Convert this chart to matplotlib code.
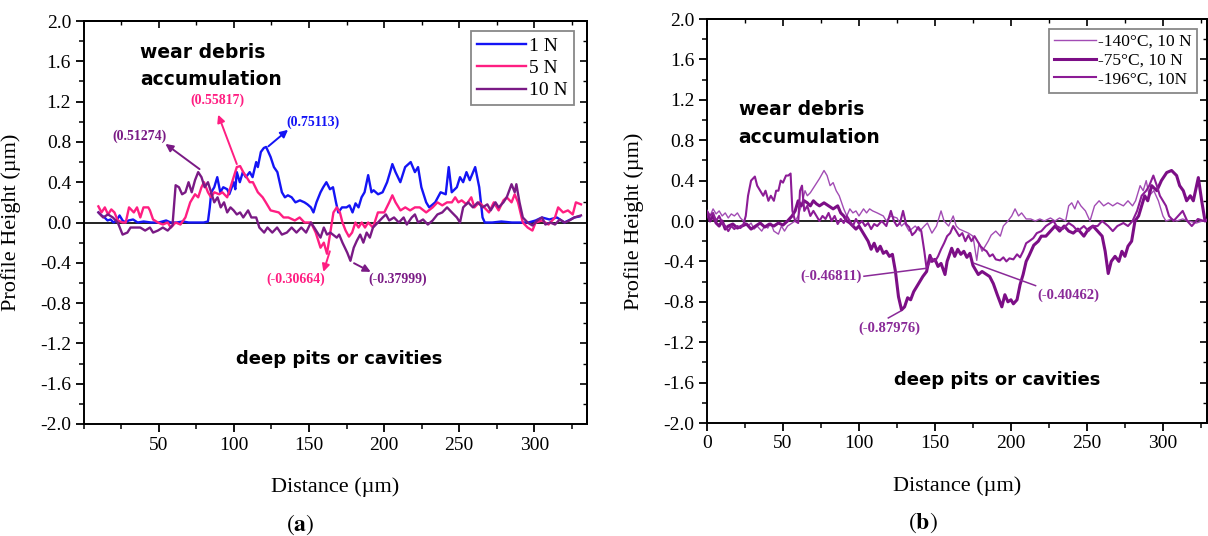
import matplotlib
matplotlib.use("Agg")
import matplotlib.pyplot as plt
from matplotlib.ticker import MultipleLocator, FormatStrFormatter

plt.rcParams['axes.unicode_minus'] = False
plt.rcParams['mathtext.fontset'] = 'stix'

# ---------------- data (a) ----------------
x_1N = [10, 12, 14, 16, 18, 20, 22, 24, 26, 28, 30, 33, 36, 40, 45, 50, 55, 58, 62, 66, 70, 75, 80, 82.8, 84,
        85, 87, 89, 91, 93, 95.6, 97, 99.9, 101, 102, 104, 106, 108, 110.6, 112.5, 114.9, 116, 118, 120, 121.5,
        123, 124.5, 126.7, 129, 132, 134, 136, 138.5, 141, 144, 147, 149, 151.3, 153, 155, 157.7, 159.5, 161.6,
        164, 166, 168, 169.5, 172, 175, 177, 179, 181, 183, 185, 187, 189.4, 191.6, 193, 196, 199, 202, 204,
        205.5, 207.6, 210.8, 214, 217.7, 220.5, 222.6, 224.8, 228, 230, 234, 237.6, 241, 243, 245, 248.4, 250.5,
        252.6, 254.8, 257, 260.6, 263.3, 265.5, 267, 272, 278, 285, 292, 296, 300.8, 305, 310, 315, 320, 324,
        326.6, 330]
y_1N = [0.1, 0.07, 0.05, 0.02, 0.03, 0.0, 0.02, 0.07, 0.02, 0.0, 0.02, 0.03, 0.0, 0.01, 0.0, 0.0, 0.02, 0.0, 0.0,
        0.01, 0.0, 0.0, 0.0, 0.01, 0.15, 0.3, 0.35, 0.45, 0.3, 0.35, 0.33, 0.28, 0.4, 0.33, 0.5, 0.4, 0.5, 0.45,
        0.5, 0.45, 0.6, 0.55, 0.7, 0.74, 0.75, 0.7, 0.65, 0.55, 0.5, 0.3, 0.25, 0.27, 0.25, 0.2, 0.22, 0.2, 0.18,
        0.15, 0.1, 0.2, 0.3, 0.35, 0.4, 0.33, 0.35, 0.2, 0.1, 0.15, 0.15, 0.17, 0.1, 0.19, 0.15, 0.25, 0.3, 0.47,
        0.3, 0.32, 0.28, 0.3, 0.4, 0.5, 0.58, 0.5, 0.4, 0.55, 0.6, 0.5, 0.55, 0.35, 0.2, 0.15, 0.2, 0.3, 0.28,
        0.55, 0.3, 0.35, 0.45, 0.4, 0.5, 0.42, 0.55, 0.35, 0.05, 0.0, 0.0, 0.01, 0.0, 0.0, 0.0, 0.02, 0.05,
        0.03, 0.05, 0.0, 0.03, 0.05, 0.06]

x_5N = [9.9, 12, 14.2, 16.3, 18.5, 20.6, 22.8, 26, 28.1, 30.3, 33.5, 35.6, 37.8, 39.9, 43.1, 44.2, 46.3, 49.5,
        52.8, 56, 58.1, 61.3, 64.5, 67.8, 71, 74.2, 76.3, 78.5, 80.2, 82.8, 84.9, 87, 90.3, 92.4, 95.6, 97.8,
        99.9, 102, 104.2, 106.3, 108.5, 110.6, 112.7, 116, 119.2, 121.3, 124.5, 129.9, 133.1, 136.3, 140.6,
        143.8, 147, 151.3, 154.5, 157.7, 159.9, 162, 164.2, 166.3, 168.5, 170.6, 172.3, 174.4, 176.6, 178.7,
        180.9, 183, 185.1, 187.3, 189.4, 192.6, 195.9, 200.1, 203.4, 205.5, 207.6, 210.9, 214.1, 217.3, 220.5,
        223.7, 228, 232.3, 235.5, 238.7, 241.9, 245.1, 247.3, 249.4, 251.6, 254.8, 258, 260.1, 263.4, 266.6,
        269.8, 273, 276.2, 279.4, 281.6, 284.8, 286.9, 289.1, 292.3, 295.5, 298.7, 300.8, 305.1, 309.4, 313.7,
        315.8, 319.1, 322.3, 325.5, 327.6, 331]
y_5N = [0.16, 0.1, 0.15, 0.08, 0.13, 0.1, 0.02, 0.0, 0.0, 0.15, 0.1, 0.15, 0.05, 0.15, 0.15, 0.12, 0.03, 0.0,
        -0.02, 0.0, -0.05, 0.0, -0.02, 0.05, 0.2, 0.28, 0.25, 0.35, 0.4, 0.3, 0.25, 0.3, 0.28, 0.3, 0.25, 0.35,
        0.45, 0.55, 0.56, 0.5, 0.45, 0.4, 0.4, 0.3, 0.25, 0.2, 0.12, 0.1, 0.05, 0.05, 0.02, 0.05, 0.0, 0.0, -0.1,
        -0.25, -0.2, -0.31, -0.1, 0.1, 0.15, 0.1, 0.0, -0.08, -0.14, -0.1, 0.0, -0.05, 0.0, -0.05, 0.0, -0.05,
        0.1, 0.1, 0.2, 0.27, 0.2, 0.12, 0.15, 0.12, 0.15, 0.15, 0.1, 0.15, 0.2, 0.17, 0.2, 0.2, 0.25, 0.2, 0.22,
        0.18, 0.25, 0.15, 0.2, 0.15, 0.1, 0.2, 0.12, 0.22, 0.25, 0.2, 0.28, 0.2, 0.0, -0.05, -0.08, 0.0, 0.02,
        -0.02, 0.05, 0.15, 0.1, 0.12, 0.08, 0.2, 0.18]

x_10N = [9.9, 13.1, 16.3, 19.5, 22.8, 26, 29.2, 31.3, 34.5, 37.8, 41, 44.2, 46.3, 49.5, 52.8, 56, 59.2, 61.3,
         63.5, 65.6, 67.8, 69.9, 72, 74.2, 76.3, 78.5, 80.6, 82.8, 84.9, 87, 89.2, 91.3, 93.5, 95.6, 97.8, 99.9,
         102, 104.2, 106.3, 109.5, 111.7, 114.9, 117, 120.2, 122.4, 125.6, 128.8, 132, 135.3, 138.5, 141.7,
         144.9, 148.1, 151.3, 153.5, 155.6, 157.7, 159.9, 162, 164.2, 168.5, 170.1, 172.3, 175.5, 177.6, 179.8,
         181.9, 184.1, 186.2, 188.4, 190.5, 192.6, 195.9, 199.1, 201.2, 203.4, 206.6, 209.8, 213, 215.1, 218.4,
         220.5, 222.6, 225.9, 229.1, 232.3, 235.5, 238.7, 241.9, 245.1, 248.4, 250.5, 252.6, 255.9, 259.1,
         262.3, 265.5, 268.7, 270.9, 274.1, 276.2, 279.4, 281.6, 284.8, 286.9, 288, 290.1, 292.3, 295.5, 298.7,
         301.9, 305.1, 307.3, 310.5, 313.7, 316.9, 320.1, 323.3, 326.6, 331]
y_10N = [0.1, 0.05, 0.08, 0.05, 0.0, -0.12, -0.1, -0.05, -0.05, -0.05, -0.08, -0.05, -0.1, -0.08, -0.05, -0.08,
         -0.03, 0.37, 0.35, 0.28, 0.3, 0.4, 0.3, 0.42, 0.5, 0.45, 0.35, 0.4, 0.3, 0.2, 0.25, 0.15, 0.2, 0.1,
         0.15, 0.12, 0.08, 0.1, 0.05, 0.12, 0.05, 0.05, -0.05, -0.1, -0.05, -0.1, -0.05, -0.12, -0.1, -0.05,
         -0.1, -0.05, -0.1, 0.0, -0.05, -0.1, -0.15, -0.05, -0.12, -0.1, -0.15, -0.12, -0.2, -0.3, -0.38, -0.25,
         -0.18, -0.12, -0.2, -0.1, -0.15, -0.05, 0.0, 0.05, 0.08, 0.02, 0.05, 0.0, 0.05, -0.02, 0.05, 0.08, 0.0,
         0.03, -0.02, 0.02, 0.08, 0.1, 0.15, 0.1, 0.05, 0.0, 0.15, 0.2, 0.15, 0.2, 0.15, 0.18, 0.12, 0.2, 0.15,
         0.2, 0.25, 0.38, 0.3, 0.38, 0.2, 0.05, 0.0, -0.03, 0.02, 0.05, -0.02, 0.0, -0.02, 0.03, 0.0, 0.02, 0.05,
         0.07]

# ---------------- data (b) ----------------
x_m140 = [0, 2, 4, 6, 8, 10, 12, 14, 16, 18, 20, 22, 24, 27, 29, 31, 33, 36, 38, 40, 42, 44, 47, 49, 51, 53, 55,
          58, 60, 62, 64.5, 66, 68, 71, 74, 77, 79, 81, 83, 85, 87, 90, 92, 94, 96, 98, 100, 103, 105, 107, 109,
          112, 116, 118, 121, 125, 128, 130, 133, 137, 140, 143, 145, 148, 151, 154, 156, 159, 162, 164, 166,
          169, 172, 175, 177.5, 179, 181, 183, 185, 187, 190, 193, 195, 198, 200.5, 202.7, 205, 207, 210, 213,
          216, 219, 222, 226, 229, 232, 236, 238, 240, 242, 244, 246, 249, 252, 255, 258, 261, 264, 267, 270,
          274, 277, 280, 282, 285, 287, 289, 291, 294, 297, 300, 302, 306, 309, 313, 317, 322, 326, 331]
y_m140 = [0.1, 0.05, 0.12, 0.07, 0.1, 0.05, 0.08, 0.03, 0.07, 0.05, 0.08, 0.03, 0.0, -0.05, -0.02, -0.08, -0.05,
          -0.1, -0.05, -0.07, -0.02, -0.1, -0.13, -0.05, -0.1, -0.05, -0.03, 0.0, 0.05, 0.15, 0.3, 0.25, 0.28,
          0.35, 0.42, 0.5, 0.45, 0.35, 0.38, 0.3, 0.25, 0.12, 0.05, 0.12, 0.08, 0.1, 0.05, 0.12, 0.08, 0.12, 0.1,
          0.08, 0.05, 0.0, 0.05, 0.03, -0.05, -0.02, -0.1, -0.05, -0.1, -0.05, -0.02, -0.12, -0.05, 0.1, 0.0,
          -0.05, 0.05, -0.05, -0.08, -0.1, -0.12, -0.15, -0.39, -0.22, -0.3, -0.25, -0.2, -0.14, -0.1, -0.15,
          -0.05, 0.0, 0.05, 0.12, 0.05, 0.08, 0.02, 0.02, 0.0, 0.02, 0.0, 0.03, 0.0, 0.03, 0.0, 0.15, 0.18, 0.12,
          0.2, 0.15, 0.1, 0.0, 0.15, 0.2, 0.15, 0.18, 0.15, 0.18, 0.15, 0.2, 0.15, 0.2, 0.35, 0.3, 0.4, 0.25, 0.3,
          0.2, 0.05, 0.0, 0.02, 0.0, 0.02, 0.0, -0.02, 0.0, 0.0]

x_m75 = [0, 2, 4, 6, 8, 10, 12, 14, 17, 20, 23, 26, 29, 32, 35, 38, 41, 44, 47, 50, 53, 56, 58, 60, 62, 64, 66,
         68, 70, 72, 74, 77, 80, 83, 86, 88, 90, 92, 94, 96, 98, 100, 102, 104, 106, 108, 110, 112, 114, 116,
         118, 120, 122, 124, 126, 128, 130, 132, 134, 136, 138, 140, 142, 144.5, 146.7, 148, 150, 152, 154,
         156.6, 158, 161, 163, 165, 167, 169, 171, 173, 175, 178.5, 181, 184, 186, 188.4, 191, 194, 196, 198,
         200, 201.6, 204, 206, 208, 210, 212, 215, 218, 220, 223, 226, 229, 232, 235, 238, 241, 244, 248, 251,
         254, 257, 260, 262, 264, 266, 268.5, 271, 273, 275, 277, 279.4, 281.6, 284, 286, 288, 290, 292.6, 296,
         299, 302.5, 305.7, 309, 311, 313.4, 315.6, 318, 320, 323.3, 325.5, 327.7, 331]
y_m75 = [0.08, 0.0, 0.05, -0.02, -0.05, 0.0, -0.08, -0.05, -0.03, -0.07, -0.05, -0.03, -0.08, -0.05, -0.02,
         -0.06, -0.03, -0.05, -0.02, -0.04, 0.0, 0.05, 0.1, 0.2, 0.15, 0.2, 0.18, 0.15, 0.2, 0.17, 0.15, 0.18,
         0.15, 0.12, 0.15, 0.08, 0.05, 0.0, -0.02, -0.05, -0.08, -0.05, -0.1, -0.15, -0.2, -0.28, -0.22, -0.3,
         -0.25, -0.32, -0.3, -0.35, -0.33, -0.5, -0.75, -0.88, -0.85, -0.76, -0.78, -0.7, -0.65, -0.6, -0.55,
         -0.5, -0.34, -0.4, -0.38, -0.45, -0.42, -0.53, -0.4, -0.27, -0.35, -0.28, -0.33, -0.3, -0.36, -0.32,
         -0.44, -0.53, -0.5, -0.53, -0.55, -0.62, -0.73, -0.85, -0.73, -0.8, -0.78, -0.82, -0.78, -0.63, -0.53,
         -0.4, -0.34, -0.24, -0.2, -0.15, -0.15, -0.1, -0.05, -0.1, -0.05, -0.1, -0.12, -0.08, -0.15, -0.08,
         -0.05, -0.1, -0.15, -0.3, -0.52, -0.4, -0.35, -0.4, -0.3, -0.35, -0.25, -0.2, 0.0, 0.05, 0.15, 0.25,
         0.2, 0.35, 0.3, 0.4, 0.48, 0.5, 0.45, 0.35, 0.3, 0.2, 0.25, 0.2, 0.43, 0.2, 0.0, 0.02]

x_m196 = [0, 2, 4, 6, 8, 10, 12, 14, 16, 18, 20, 22, 24, 25.5, 27, 29, 31.5, 33, 35, 37, 38.5, 40.4, 42, 44,
          45.5, 47, 48.5, 50, 52, 53.5, 55, 56.2, 58, 60, 61.2, 62.5, 64, 66, 68, 70, 72, 74, 76, 78, 80, 82, 84,
          86, 88, 90, 92, 94, 96, 98, 100, 102, 104, 106, 108, 110, 112, 115, 118, 121, 123, 125, 127, 129, 131,
          133, 135, 137, 139, 141, 143, 144.5, 146, 148, 150, 152, 154, 156, 158, 160, 162, 164, 166, 168, 170,
          172, 174, 176, 178, 180, 182, 184, 186, 188, 190, 192.8, 195, 197, 199, 201.6, 204, 206, 208, 210,
          212, 214.7, 217, 220, 223, 226, 228, 230, 234, 238, 241, 244, 248, 251, 254, 257, 260, 264, 267, 270,
          274, 277, 280, 283, 286, 289, 291, 293.7, 296, 298, 300, 302, 304, 307, 310, 313, 316, 319, 323, 327,
          331]
y_m196 = [0.1, 0.05, 0.08, 0.0, 0.05, -0.02, -0.05, -0.1, -0.05, -0.08, -0.05, -0.07, -0.03, 0.05, 0.25, 0.4,
          0.44, 0.35, 0.3, 0.25, 0.3, 0.2, 0.25, 0.2, 0.3, 0.3, 0.4, 0.38, 0.45, 0.45, 0.47, 0.1, 0.0, -0.02,
          0.3, 0.35, 0.1, 0.15, 0.05, 0.1, 0.05, 0.0, 0.05, 0.02, 0.08, 0.0, 0.05, -0.03, 0.02, -0.02, 0.05, 0.0,
          -0.05, 0.02, -0.03, 0.0, -0.05, -0.02, -0.08, -0.03, -0.05, 0.0, -0.05, 0.1, 0.0, -0.05, -0.02, 0.1,
          -0.03, -0.06, -0.14, -0.11, -0.06, -0.1, -0.3, -0.47, -0.42, -0.37, -0.4, -0.35, -0.28, -0.22, -0.15,
          -0.12, -0.05, -0.1, -0.15, -0.12, -0.2, -0.14, -0.2, -0.15, -0.2, -0.25, -0.28, -0.3, -0.35, -0.33,
          -0.38, -0.39, -0.36, -0.4, -0.37, -0.38, -0.33, -0.36, -0.3, -0.22, -0.2, -0.17, -0.12, -0.1, -0.05,
          -0.02, 0.0, -0.05, -0.08, -0.02, -0.05, -0.1, -0.05, -0.1, -0.05, -0.05, 0.0, -0.05, -0.1, -0.05, -0.02,
          -0.05, 0.0, 0.1, 0.25, 0.3, 0.35, 0.45, 0.35, 0.25, 0.2, 0.15, 0.05, 0.0, 0.05, 0.1, 0.0, -0.05, 0.02,
          0.0, 0.02]

labels_a = ["1 N", "5 N", "10 N"]
labels_b = ["-140\u00b0C, 10 N", "-75\u00b0C, 10 N", "-196\u00b0C, 10N"]
yticks = [-2.0, -1.6, -1.2, -0.8, -0.4, 0.0, 0.4, 0.8, 1.2, 1.6, 2.0]
xticks = [0, 50, 100, 150, 200, 250, 300]

C_BLUE = "#1414F5"
C_PINK = "#FF1E82"
C_PURP = "#7A1A85"
C_T140 = "#A24CB4"
C_T75 = "#7C0E86"
C_T196 = "#8C1C96"

SERIF = "Liberation Serif"
SANSB = "DejaVu Sans"

fig = plt.figure(figsize=(12.08, 5.36), dpi=100)
ax1 = fig.add_axes([83.5 / 1208, 1 - 424 / 536, 503.5 / 1208, 403 / 536])
ax2 = fig.add_axes([707 / 1208, 1 - 423 / 536, 500 / 1208, 404 / 536])


def style_axes(ax, xlim):
    ax.set_xlim(*xlim)
    ax.set_ylim(-2.0, 2.0)
    ax.set_yticks(yticks)
    ax.set_xticks(xticks)
    ax.yaxis.set_major_formatter(FormatStrFormatter('%.1f'))
    ax.xaxis.set_minor_locator(MultipleLocator(25))
    ax.yaxis.set_minor_locator(MultipleLocator(0.2))
    ax.tick_params(which='major', direction='out', length=6, width=1.3, labelsize=14, pad=3)
    ax.tick_params(which='minor', direction='out', length=3.5, width=1.1)
    for lab in ax.get_xticklabels() + ax.get_yticklabels():
        lab.set_fontfamily(SERIF)
    for s in ax.spines.values():
        s.set_linewidth(1.4)
    ax.axhline(0, color='#222222', lw=1.4, zorder=1)
    sec = ax.secondary_xaxis('top')
    sec.set_xticks(xticks)
    sec.xaxis.set_minor_locator(MultipleLocator(25))
    sec.tick_params(which='major', direction='in', length=5, width=1.2, labeltop=False)
    sec.tick_params(which='minor', direction='in', length=3, width=1.0)
    sec.spines['top'].set_linewidth(1.4)
    secy = ax.secondary_yaxis('right')
    secy.set_yticks(yticks)
    secy.yaxis.set_minor_locator(MultipleLocator(0.2))
    secy.tick_params(which='major', direction='in', length=5, width=1.2, labelright=False)
    secy.tick_params(which='minor', direction='in', length=3, width=1.0)
    secy.spines['right'].set_linewidth(1.4)
    ax.set_ylabel("Profile Height (\u00b5m)", fontfamily=SERIF, fontsize=16)
    ax.set_xlabel("Distance (\u00b5m)", fontfamily=SERIF, fontsize=16)
    ax.yaxis.set_label_coords(-0.125, 0.5)
    ax.xaxis.set_label_coords(0.5, -0.131)


# ---------------- panel (a) ----------------
style_axes(ax1, (9.5, 335))
ax1.set_xticks(xticks[1:])
ax1.plot(x_1N, y_1N, color=C_BLUE, lw=1.7, label=labels_a[0], zorder=3)
ax1.plot(x_5N, y_5N, color=C_PINK, lw=1.7, label=labels_a[1], zorder=3)
ax1.plot(x_10N, y_10N, color=C_PURP, lw=1.7, label=labels_a[2], zorder=3)

leg1 = ax1.legend(loc='upper right', bbox_to_anchor=(0.974, 0.975), borderaxespad=0,
                  prop={'family': SERIF, 'size': 14}, handlelength=2.5, handletextpad=0.2,
                  labelspacing=0.25, borderpad=0.3, fancybox=False, framealpha=1, edgecolor='#888888')
leg1.get_frame().set_linewidth(1.3)

ax1.text(37.7, 1.69, "wear debris", fontfamily=SANSB, fontweight='bold', fontsize=13.5, ha='left', va='center')
ax1.text(37.7, 1.42, "accumulation", fontfamily=SANSB, fontweight='bold', fontsize=13.5, ha='left', va='center')
ax1.text(170, -1.35, "deep pits or cavities", fontfamily=SANSB, fontweight='bold', fontsize=13,
         ha='center', va='center')

ann_a = [
    ("(0.55817)", C_PINK, (88.8, 1.21), (102, 0.58), (89.6, 1.07)),
    ("(0.75113)", C_BLUE, (152.7, 0.99), (123, 0.756), (136.1, 0.92)),
    ("(0.51274)", C_PURP, (37.1, 0.86), (77.2, 0.53), (54.5, 0.78)),
    ("(-0.30664)", C_PINK, (141.1, -0.564), (163.9, -0.286), (159.6, -0.49)),
    ("(-0.37999)", C_PURP, (208.9, -0.564), (180, -0.404), (191.1, -0.49)),
]
for txt, col, tpos, tail, head in ann_a:
    ax1.text(*tpos, txt, color=col, fontfamily=SERIF, fontweight='bold', fontsize=10, ha='center', va='center')
    ax1.annotate("", xy=head, xytext=tail,
                 arrowprops=dict(arrowstyle='-|>', color=col, lw=1.4, mutation_scale=11,
                                 shrinkA=0, shrinkB=0))

# ---------------- panel (b) ----------------
style_axes(ax2, (0, 329))
ax2.plot(x_m140, y_m140, color=C_T140, lw=1.0, label=labels_b[0], zorder=3)
ax2.plot(x_m75, y_m75, color=C_T75, lw=2.2, label=labels_b[1], zorder=3)
ax2.plot(x_m196, y_m196, color=C_T196, lw=1.5, label=labels_b[2], zorder=3)

leg2 = ax2.legend(loc='upper right', bbox_to_anchor=(0.979, 0.976), borderaxespad=0,
                  prop={'family': SERIF, 'size': 12.5}, handlelength=2.4, handletextpad=0.1,
                  labelspacing=0.15, borderpad=0.3, fancybox=False, framealpha=1, edgecolor='#888888')
leg2.get_frame().set_linewidth(1.3)

ax2.text(20.8, 1.105, "wear debris", fontfamily=SANSB, fontweight='bold', fontsize=13.5, ha='left', va='center')
ax2.text(20.8, 0.83, "accumulation", fontfamily=SANSB, fontweight='bold', fontsize=13.5, ha='left', va='center')
ax2.text(190.8, -1.57, "deep pits or cavities", fontfamily=SANSB, fontweight='bold', fontsize=13,
         ha='center', va='center')

C_ANN_B = "#8A2A98"
ann_b = [
    ("(-0.46811)", (81.7, -0.547), (103.3, -0.547), (143.9, -0.469)),
    ("(-0.87976)", (119.8, -1.06), (119.3, -0.96), (127.4, -0.892)),
    ("(-0.40462)", (237.8, -0.74), (216.2, -0.64), (175.6, -0.418)),
]
for txt, tpos, p0, p1 in ann_b:
    ax2.text(*tpos, txt, color=C_ANN_B, fontfamily=SERIF, fontweight='bold', fontsize=10.5,
             ha='center', va='center')
    ax2.plot([p0[0], p1[0]], [p0[1], p1[1]], color=C_ANN_B, lw=1.1, zorder=4)

fig.text(300 / 1208, 1 - 525 / 536, r"$(\mathbf{a})$", fontsize=17, ha='center', va='center')
fig.text(922.5 / 1208, 1 - 523 / 536, r"$(\mathbf{b})$", fontsize=17, ha='center', va='center')

fig.savefig("out.png", dpi=100)
